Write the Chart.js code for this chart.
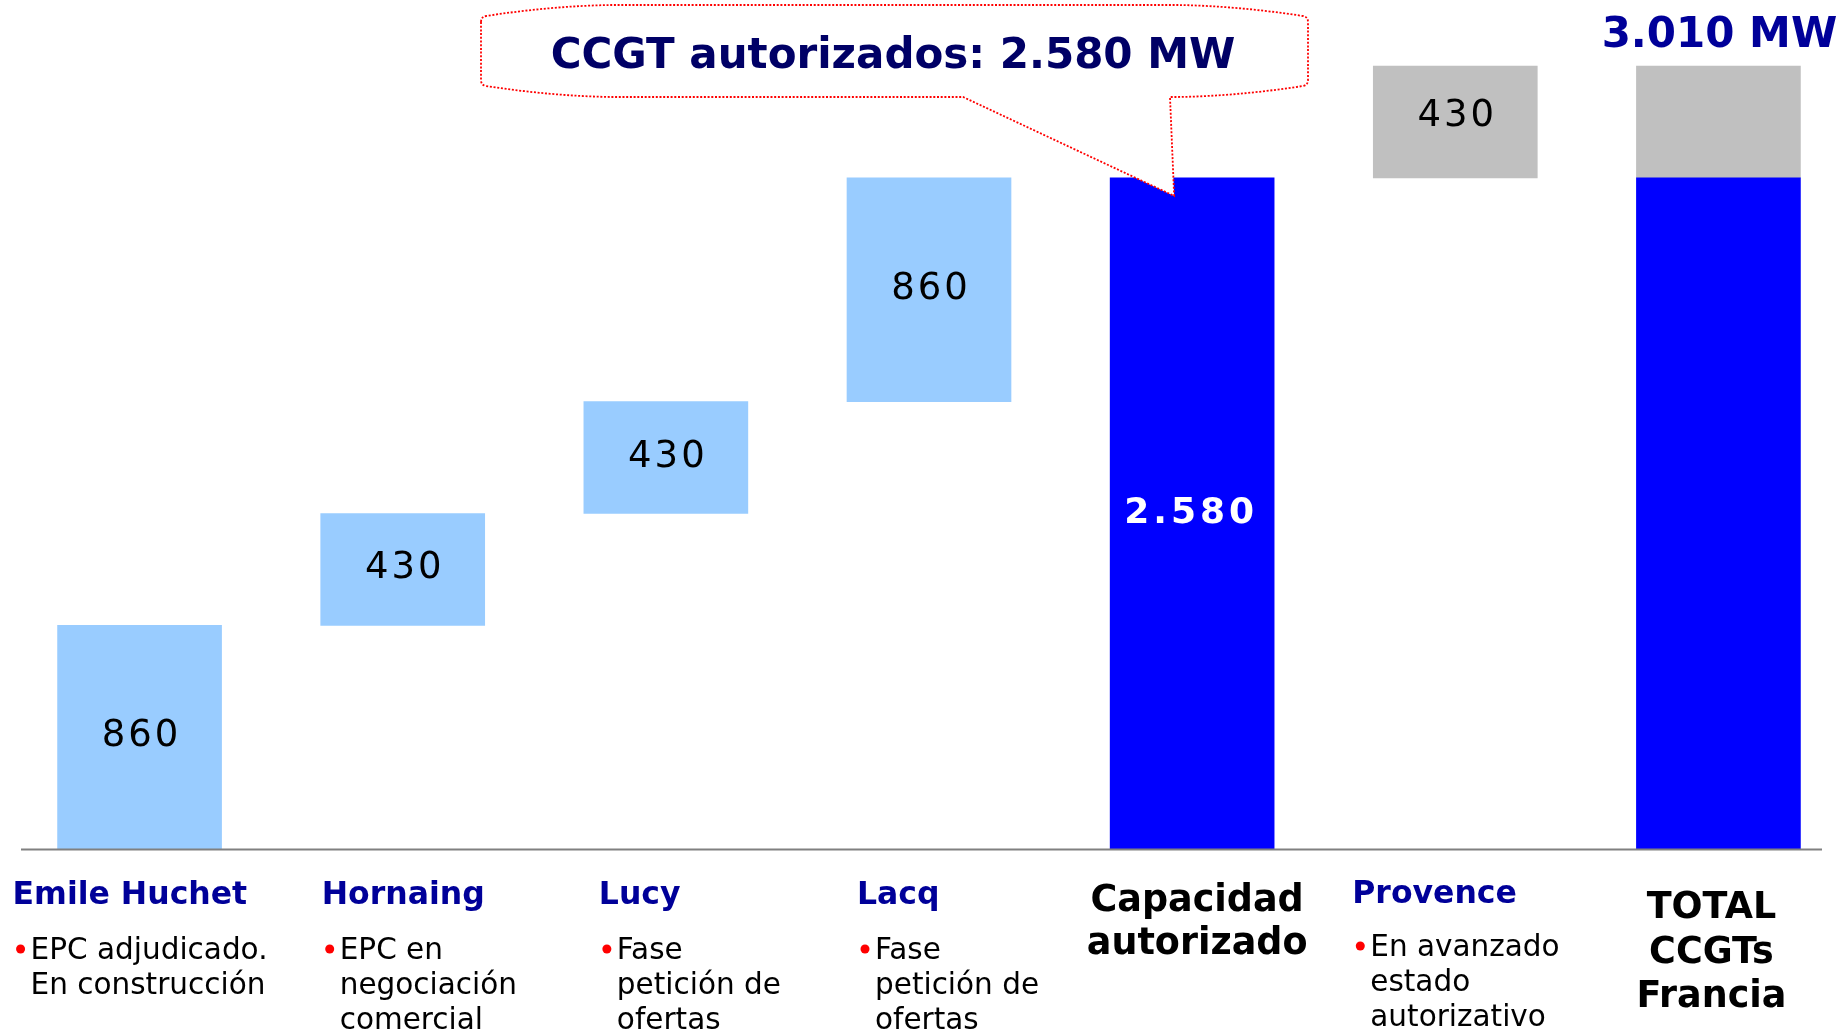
<!DOCTYPE html>
<html><head><meta charset="utf-8">
<script src="https://cdn.jsdelivr.net/npm/chart.js@4"></script>
<style>html,body{margin:0;padding:0;overflow:hidden;background:#fff;width:1843px;height:1033px}canvas{display:block}</style>
</head><body><canvas id="c" width="1850" height="1033"></canvas>
<script>
// ---------- DATA ----------
const categories = ['Emile Huchet', 'Hornaing', 'Lucy', 'Lacq', 'Capacidad autorizado', 'Provence', 'TOTAL CCGTs Francia'];
const plantValues = [860, 430, 430, 860];      // Emile Huchet, Hornaing, Lucy, Lacq
const authorizedTotal = 2580;                  // Capacidad autorizado
const provenceValue = 430;                     // Provence
const franceTotal = 3010;                      // TOTAL CCGTs Francia
const nameLines = [['Emile Huchet'], ['Hornaing'], ['Lucy'], ['Lacq'], ['Capacidad', 'autorizado'], ['Provence'], ['TOTAL', 'CCGTs', 'Francia']];
const noteLines = [['EPC adjudicado.', 'En construcción'], ['EPC en', 'negociación', 'comercial'], ['Fase', 'petición de', 'ofertas'], ['Fase', 'petición de', 'ofertas'], [], ['En avanzado', 'estado', 'autorizativo'], []];
const calloutText = 'CCGT autorizados: ';
const unit = 'MW';

// ---------- build library tables ----------
let cum = 0;
const ranges = plantValues.map(v => { const r = [cum, cum + v]; cum += v; return r; });
ranges.push([0, authorizedTotal]);
ranges.push([authorizedTotal, authorizedTotal + provenceValue]);
ranges.push([0, authorizedTotal]);
const overlay = categories.map((c, i) => i === 6 ? [authorizedTotal, franceTotal] : null);

const LIGHT = '#99CCFF', BLUE = '#0000FF', GREY = '#C0C0C0';
const colors = [LIGHT, LIGHT, LIGHT, LIGHT, BLUE, GREY, BLUE];

const fmt = n => String(n).replace(/\B(?=(\d{3})+(?!\d))/g, '.');
const FONT = '"DejaVu Sans", Verdana, sans-serif';

// layout (pixels, not data)
const nameOffset = [-127, -81, -67, -72, 5, -103, -7];
const nameDy = [0, 0, 0, 0, 0, -1, 0];
const noteDy = [0, 0, 0, 0, 0, -3, 0];

const decor = {
  id: 'decor',
  afterDatasetsDraw(chart) {
    const ctx = chart.ctx, xs = chart.scales.x, ys = chart.scales.y, ca = chart.chartArea;
    const y0 = ys.getPixelForValue(0);
    ctx.save();
    // base axis line
    ctx.strokeStyle = '#808080'; ctx.lineWidth = 2;
    ctx.beginPath(); ctx.moveTo(ca.left + 13, y0 + 0.5); ctx.lineTo(ca.right - 28, y0 + 0.5); ctx.stroke();

    // value labels
    const meta = chart.getDatasetMeta(0);
    meta.data.forEach((el, i) => {
      if (i === 6) return;
      const r = ranges[i];
      const cy = (ys.getPixelForValue(r[0]) + ys.getPixelForValue(r[1])) / 2;
      ctx.textAlign = 'center'; ctx.textBaseline = 'alphabetic';
      if (i === 4) {
        ctx.fillStyle = '#FFFFFF'; ctx.font = 'bold 36px ' + FONT; ctx.letterSpacing = '4px';
        ctx.fillText(fmt(r[1] - r[0]), el.x - 1, cy + 10);
      } else {
        ctx.fillStyle = '#000000'; ctx.font = '37px ' + FONT; ctx.letterSpacing = '3px';
        ctx.fillText(fmt(r[1] - r[0]), el.x + 2, cy + (i === 5 ? 4 : 9));
      }
    });
    ctx.letterSpacing = '0px';

    // category labels
    categories.forEach((c, i) => {
      const cx = xs.getPixelForValue(i);
      if (noteLines[i].length) {
        const left = cx + nameOffset[i];
        const base = y0 + 55 + nameDy[i];
        ctx.textAlign = 'left'; ctx.fillStyle = '#000099'; ctx.font = 'bold 31.5px ' + FONT;
        ctx.fillText(nameLines[i][0], left, base);
        ctx.font = '29.5px ' + FONT;
        noteLines[i].forEach((t, k) => {
          const b = y0 + 110 + noteDy[i] + k * 35;
          ctx.fillStyle = '#000000';
          ctx.fillText(t, left + 18, b);
          if (k === 0) {
            ctx.fillStyle = '#FF0000';
            ctx.beginPath(); ctx.arc(left + 8, b - 10, 4.5, 0, Math.PI * 2); ctx.fill();
          }
        });
      } else {
        ctx.textAlign = 'center'; ctx.fillStyle = '#000000'; ctx.font = 'bold 36.5px ' + FONT;
        const start = i === 4 ? 62 : 69, step = i === 4 ? 43 : 44.5;
        nameLines[i].forEach((t, k) => ctx.fillText(t, cx + nameOffset[i], y0 + start + k * step));
      }
    });

    // total label above last bar
    ctx.textAlign = 'center'; ctx.fillStyle = '#000099'; ctx.font = 'bold 42px ' + FONT;
    ctx.fillText(fmt(franceTotal) + ' ' + unit, xs.getPixelForValue(6) + 1, ys.getPixelForValue(franceTotal) - 19);

    // callout
    const tipX = xs.getPixelForValue(4) - 18, tipY = ys.getPixelForValue(authorizedTotal) + 18;
    const L = 481, R = 1308, T = 5, B = 97;
    const p1 = 963, p2 = 1170;
    ctx.beginPath();
    ctx.moveTo(L, T + 17);
    ctx.lineTo(L, B - 17);
    ctx.quadraticCurveTo(L, B - 12, L + 5, B - 11);
    ctx.quadraticCurveTo(L + 70, B - 1, L + 130, B);
    ctx.lineTo(p1, B);
    ctx.lineTo(tipX, tipY);
    ctx.lineTo(p2, B);
    ctx.lineTo(R - 130, B);
    ctx.quadraticCurveTo(R - 70, B - 1, R - 5, B - 11);
    ctx.quadraticCurveTo(R, B - 12, R, B - 17);
    ctx.lineTo(R, T + 17);
    ctx.quadraticCurveTo(R, T + 12, R - 5, T + 11);
    ctx.quadraticCurveTo(R - 70, T + 1, R - 130, T);
    ctx.lineTo(L + 130, T);
    ctx.quadraticCurveTo(L + 70, T + 1, L + 5, T + 11);
    ctx.quadraticCurveTo(L, T + 12, L, T + 17);
    ctx.closePath();
    ctx.fillStyle = '#FFFFFF'; ctx.fill();
    ctx.strokeStyle = '#FF0000'; ctx.lineWidth = 1.8; ctx.setLineDash([2, 1.7]); ctx.stroke();
    ctx.setLineDash([]);
    ctx.fillStyle = '#000066'; ctx.font = 'bold 42px ' + FONT; ctx.textAlign = 'center';
    ctx.fillText(calloutText + fmt(authorizedTotal) + ' ' + unit, 893, 68);
    ctx.restore();
  }
};

new Chart(document.getElementById('c'), {
  type: 'bar',
  data: {
    labels: categories,
    datasets: [
      { data: ranges, backgroundColor: colors, borderWidth: 0, barThickness: 164, grouped: false, borderSkipped: false },
      { data: overlay, backgroundColor: GREY, borderWidth: 0, barThickness: 164, grouped: false, borderSkipped: false }
    ]
  },
  options: {
    responsive: false, animation: false,
    layout: { padding: { left: 8, right: 0, top: 0, bottom: 184 } },
    plugins: { legend: { display: false }, tooltip: { enabled: false } },
    scales: {
      x: { display: false, offset: true, grid: { display: false } },
      y: { display: false, min: 0, max: 3264, grid: { display: false } }
    }
  },
  plugins: [decor]
});
</script></body></html>
